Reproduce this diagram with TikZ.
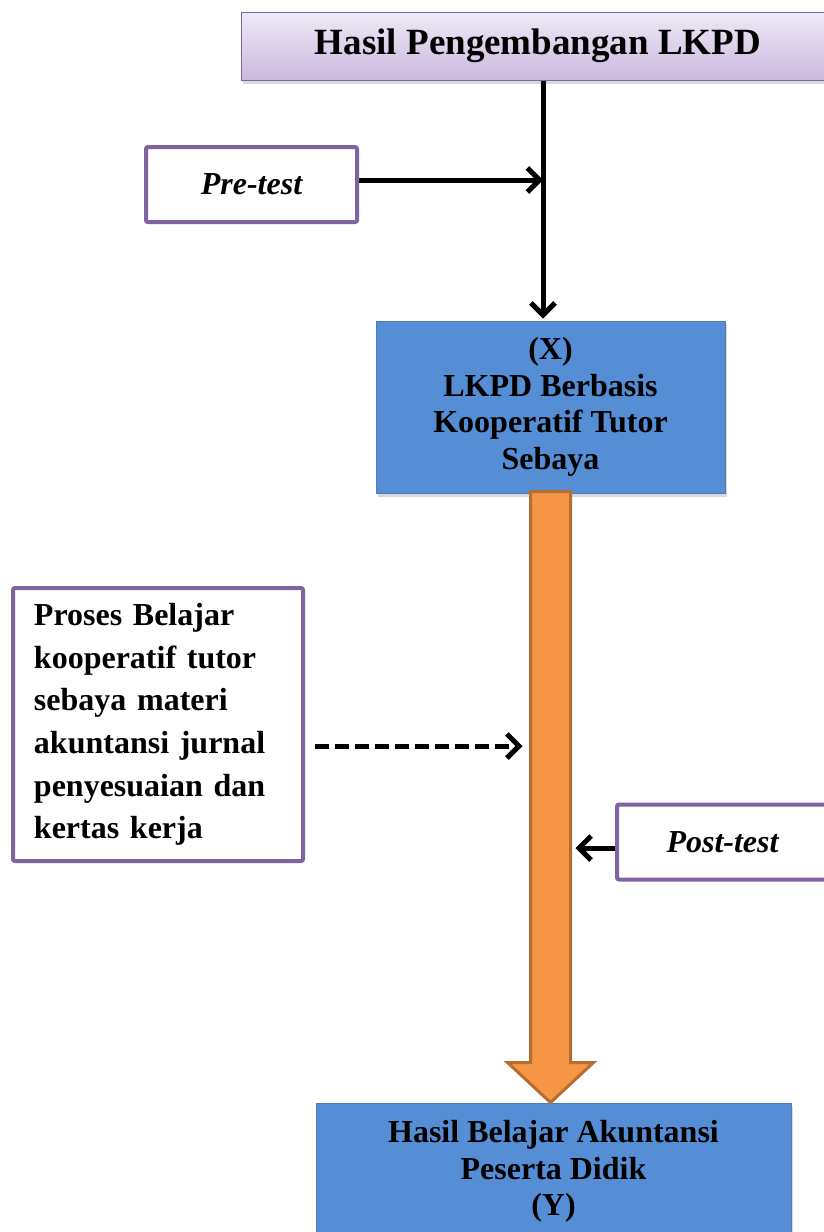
\documentclass[tikz,border=0pt]{standalone}
\usepackage{fontspec}
\setmainfont{Liberation Serif}
\usetikzlibrary{arrows.meta,positioning,calc,shadows}
\definecolor{ungu}{HTML}{8064A2}
\definecolor{ungumuda}{HTML}{EFEAF6}
\definecolor{ungutua}{HTML}{CBB8DF}
\definecolor{biru}{HTML}{558ED5}
\definecolor{birutepi}{HTML}{4A7EBB}
\definecolor{oranye}{HTML}{F79646}
\definecolor{oranyetepi}{HTML}{B66D31}
\tikzset{
judulbox/.style = {draw=ungu, line width=1pt, top color=ungumuda, bottom color=ungutua, rectangle, minimum width=594pt, minimum height=68pt, font=\fontsize{37}{42}\selectfont\bfseries, drop shadow={shadow xshift=2pt, shadow yshift=-4pt, opacity=0.3}},
block/.style = {draw=birutepi, line width=1pt, fill=biru, rectangle, align=center, font=\fontsize{32}{36.5}\selectfont\bfseries, drop shadow={shadow xshift=2pt, shadow yshift=-4pt, opacity=0.3}},
tes/.style = {draw=ungu, line width=4pt, fill=white, rounded corners=2pt, minimum width=211pt, minimum height=75pt, font=\fontsize{32}{36.5}\selectfont\bfseries\itshape},
proses/.style = {draw=ungu, line width=4pt, fill=white, rounded corners=2pt, minimum width=290pt, minimum height=273pt, align=left, text width=248pt, font=\fontsize{32}{42.6}\selectfont\bfseries},
panah/.style = {-{Straight Barb[length=12pt,width=24pt]}, line width=5pt},
fat/.style = {draw=oranyetepi, line width=3pt, fill=oranye, line join=miter}
}
\begin{document}
\begin{tikzpicture}[x=1pt, y=-1pt]
\useasboundingbox (0,0) rectangle (824,1232);
\clip (0,0) rectangle (824,1232);
\node[judulbox] (judul) at (538,46) {Hasil Pengembangan LKPD};
\node[tes] (pre) at (251.5,184.5) {Pre-test};
\node[block, minimum width=349pt, minimum height=172pt] (lkpd) at (550.5,407) {(X)\\LKPD Berbasis\\Kooperatif Tutor\\Sebaya};
\node[proses] (belajar) at (158,724.5) {Proses Belajar\\kooperatif tutor\\sebaya materi\\akuntansi jurnal\\penyesuaian dan\\kertas kerja};
\node[tes] (post) at (722.5,842) {Post-test};
\node[block, minimum width=475pt, minimum height=137pt] (hasil) at (553.5,1171.5) {Hasil Belajar Akuntansi\\Peserta Didik\\(Y)};
\coordinate (atas) at ([xshift=5pt]judul.south);
\coordinate (sL) at ($(lkpd.south)+(-28,0)$);
\coordinate (sR) at ($(lkpd.south)+(25,0)$);
% panah besar
\draw[fat] ($(lkpd.south)+(-20,-2)$) -- ($(lkpd.south |- hasil.north)+(-20,-40)$) -- ($(lkpd.south |- hasil.north)+(-43,-40)$) -- (lkpd.south |- hasil.north) -- ($(lkpd.south |- hasil.north)+(43,-40)$) -- ($(lkpd.south |- hasil.north)+(20,-40)$) -- ($(lkpd.south)+(20,-2)$) -- cycle;
\draw[panah] (atas) -- ([yshift=2pt]atas |- lkpd.north);
\draw[panah] ([yshift=4.5pt]pre.east) -- ([yshift=4.5pt]pre.east -| atas);
\draw[panah, dash pattern=on 14pt off 6pt] ([xshift=10pt,yshift=-21.5pt]belajar.east) -- ([yshift=-21.5pt]belajar.east -| sL);
\draw[panah] ([yshift=-6pt]post.west) -- ([yshift=-6pt]post.west -| sR);
\end{tikzpicture}
\end{document}
